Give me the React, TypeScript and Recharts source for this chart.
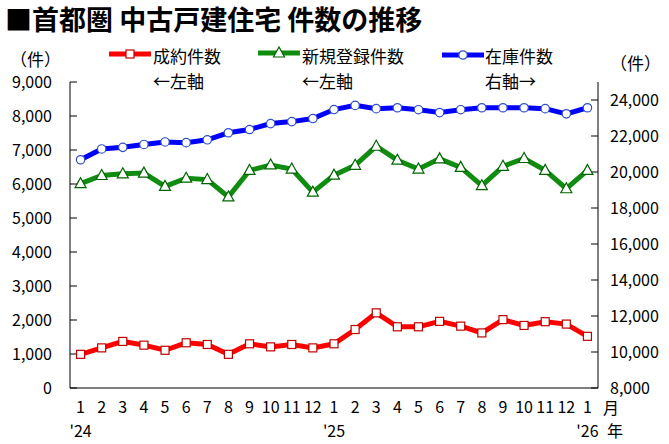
import React from 'react';
import { LineChart, Line, XAxis, YAxis } from 'recharts';

// months 2024/1 .. 2026/1
const months = ['1', '2', '3', '4', '5', '6', '7', '8', '9', '10', '11', '12',
  '1', '2', '3', '4', '5', '6', '7', '8', '9', '10', '11', '12', '1'];
const years = ["'24", '', '', '', '', '', '', '', '', '', '', '',
  "'25", '', '', '', '', '', '', '', '', '', '', '', "'26"];

// 成約件数 (left axis)
const contracts = [990, 1180, 1370, 1260, 1110, 1330, 1280, 990, 1300, 1210, 1280, 1180,
  1300, 1720, 2210, 1800, 1800, 1960, 1820, 1620, 2010, 1840, 1950, 1880, 1520];
// 新規登録件数 (left axis)
const listings = [6010, 6250, 6300, 6320, 5930, 6170, 6130, 5620, 6400, 6560, 6440, 5760,
  6260, 6550, 7110, 6700, 6440, 6740, 6490, 5950, 6520, 6750, 6400, 5860, 6400];
// 在庫件数 (right axis)
const stock = [20680, 21280, 21370, 21530, 21670, 21630, 21790, 22180, 22360, 22690, 22800, 22970,
  23470, 23700, 23520, 23570, 23460, 23300, 23460, 23570, 23570, 23570, 23520, 23230, 23570];

const leftTicks = [0, 1000, 2000, 3000, 4000, 5000, 6000, 7000, 8000, 9000];
const rightTicks = [8000, 10000, 12000, 14000, 16000, 18000, 20000, 22000, 24000];

const data = months.map((m, i) => ({
  idx: i,
  contracts: contracts[i],
  listings: listings[i],
  stock: stock[i],
}));
const monthIdx = months.map((_, i) => i);
const boundaries = months.slice(1).map((_, i) => i + 0.5);

const FONT = '"Noto Sans CJK JP", "Noto Sans", sans-serif';
const RED = '#ff0000';
const GREEN = '#108c10';
const BLUE = '#0000ff';

const SquareDot = (p: any) => {
  if (p.cx == null) return null;
  return <rect key={p.key} x={p.cx - 4} y={p.cy - 4} width={8} height={8} fill="#fff" stroke="#c00000" strokeWidth={1.2} />;
};

const TriangleDot = (p: any) => {
  if (p.cx == null) return null;
  const { cx, cy } = p;
  return (
    <polygon key={p.key} points={`${cx},${cy - 6} ${cx - 5.5},${cy + 4} ${cx + 5.5},${cy + 4}`}
      fill="#fff" stroke="#006400" strokeWidth={1.2} />
  );
};

const CircleDot = (p: any) => {
  if (p.cx == null) return null;
  return <circle key={p.key} cx={p.cx} cy={p.cy} r={4.2} fill="#fff" stroke="#3050c8" strokeWidth={1.2} />;
};

const MonthTick = (p: any) => {
  const i = p.payload.value;
  return (
    <g>
      <text x={p.x} y={p.y + 17} textAnchor="middle" dominantBaseline="central" fontSize={16} fill="#000" fontFamily={FONT}>
        {months[i]}
      </text>
      {years[i] && (
        <text x={p.x} y={p.y + 41} textAnchor="middle" dominantBaseline="central" fontSize={16} fill="#000" fontFamily={FONT}>
          {years[i]}
        </text>
      )}
    </g>
  );
};

function Txt({ left, cy, size = 17, children, weight = 'normal' }: any) {
  return (
    <div style={{ position: 'absolute', left, top: cy - size / 2 - 1, fontSize: size, lineHeight: `${size + 2}px`, whiteSpace: 'nowrap', fontWeight: weight, color: '#000' }}>
      {children}
    </div>
  );
}

function LegendIcon({ left, cy, color, kind }: any) {
  return (
    <svg style={{ position: 'absolute', left, top: cy - 8 }} width={42} height={16}>
      <line x1={0} y1={8} x2={42} y2={8} stroke={color} strokeWidth={5} />
      {kind === 'square' && <rect x={17} y={4} width={8} height={8} fill="#fff" stroke="#c00000" strokeWidth={1.2} />}
      {kind === 'triangle' && <polygon points="21,2 15.5,12 26.5,12" fill="#fff" stroke="#006400" strokeWidth={1.2} />}
      {kind === 'circle' && <circle cx={21} cy={8} r={4.2} fill="#fff" stroke="#3050c8" strokeWidth={1.2} />}
    </svg>
  );
}

export default function App() {
  return (
    <div style={{ position: 'absolute', left: 0, top: 0, width: 669, height: 444, background: '#fff', fontFamily: FONT }}>
      <LineChart width={669} height={444} data={data} margin={{ top: 82, right: 0, bottom: 54, left: 0 }}>
        {/* tick marks between months */}
        <XAxis
          xAxisId={0}
          dataKey="idx"
          type="number"
          domain={[-0.5, 24.5]}
          ticks={boundaries}
          interval={0}
          tick={false}
          axisLine={{ stroke: '#000' }}
          tickLine={{ stroke: '#000' }}
          tickSize={-8}
          height={1}
        />
        {/* month / year labels */}
        <XAxis
          xAxisId="lab"
          dataKey="idx"
          type="number"
          domain={[-0.5, 24.5]}
          ticks={monthIdx}
          interval={0}
          tick={<MonthTick />}
          axisLine={false}
          tickLine={false}
          tickSize={0}
          tickMargin={0}
          height={1}
        />
        <YAxis
          yAxisId="left"
          orientation="left"
          width={70}
          domain={[0, 9000]}
          ticks={leftTicks}
          interval={0}
          tickFormatter={(v) => v.toLocaleString('en-US')}
          tick={{ fill: '#000', fontSize: 16, fontFamily: FONT }}
          axisLine={{ stroke: '#000' }}
          tickLine={{ stroke: '#000' }}
          tickSize={-7}
          tickMargin={25}
        />
        <YAxis
          yAxisId="right"
          orientation="right"
          width={71}
          domain={[8000, 25000]}
          ticks={rightTicks}
          interval={0}
          tickFormatter={(v) => v.toLocaleString('en-US')}
          tick={{ fill: '#000', fontSize: 16, fontFamily: FONT }}
          axisLine={{ stroke: '#000' }}
          tickLine={{ stroke: '#000' }}
          tickSize={-7}
          tickMargin={19}
        />
        <Line xAxisId="lab" yAxisId="right" dataKey="stock" type="linear" stroke={BLUE} strokeWidth={5}
          dot={CircleDot} activeDot={false} isAnimationActive={false} />
        <Line xAxisId="lab" yAxisId="left" dataKey="listings" type="linear" stroke={GREEN} strokeWidth={5}
          dot={TriangleDot} activeDot={false} isAnimationActive={false} />
        <Line xAxisId="lab" yAxisId="left" dataKey="contracts" type="linear" stroke={RED} strokeWidth={5}
          dot={SquareDot} activeDot={false} isAnimationActive={false} />
      </LineChart>

      <Txt left={5} cy={18} size={27} weight="bold">■首都圏 中古戸建住宅 件数の推移</Txt>

      <Txt left={10} cy={58}>（件）</Txt>
      <Txt left={610} cy={62}>（件）</Txt>

      <LegendIcon left={109} cy={54} color={RED} kind="square" />
      <Txt left={153} cy={55}>成約件数</Txt>
      <Txt left={153} cy={80}>←左軸</Txt>

      <LegendIcon left={258} cy={53} color={GREEN} kind="triangle" />
      <Txt left={302} cy={55}>新規登録件数</Txt>
      <Txt left={302} cy={80}>←左軸</Txt>

      <LegendIcon left={442} cy={55} color={BLUE} kind="circle" />
      <Txt left={485} cy={55}>在庫件数</Txt>
      <Txt left={485} cy={80}>右軸→</Txt>

      <Txt left={603} cy={407} size={16}>月</Txt>
      <Txt left={607} cy={430} size={16}>年</Txt>
    </div>
  );
}
